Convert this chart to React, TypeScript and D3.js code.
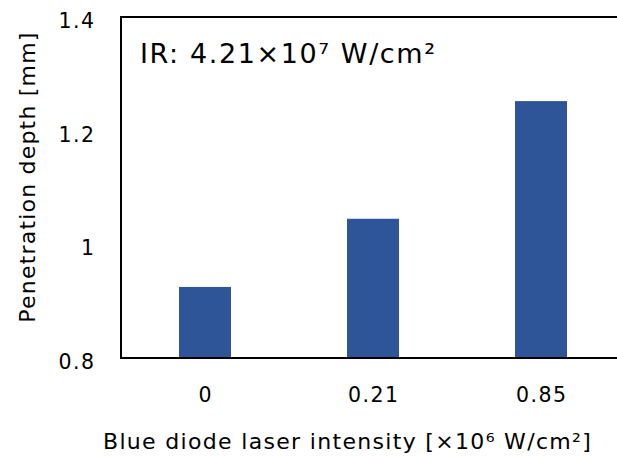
import React from "react";
import * as d3 from "d3";

const categories = ["0", "0.21", "0.85"];
const depthValues = [0.925, 1.045, 1.252];
const yTicks = [0.8, 1.0, 1.2, 1.4];
const yTickLabels = ["0.8", "1", "1.2", "1.4"];
const annotation = "IR: 4.21×10⁷ W/cm²";
const xTitle = "Blue diode laser intensity [×10⁶ W/cm²]";
const yTitle = "Penetration depth [mm]";

const W = 617;
const H = 457;
const left = 121;
const right = 625;
const top = 17;
const bottom = 358;
const font = "'DejaVu Sans', Verdana, sans-serif";

export default function App() {
  const x = d3.scaleBand<string>().domain(categories).range([left, right]).paddingInner(0.69).paddingOuter(0.345);
  const y = d3.scaleLinear().domain([0.8, 1.4]).range([bottom, top]);
  const bw = 52;
  const tickLs = 1.5;
  return (
    <svg width={W} height={H} style={{ position: "absolute", left: 0, top: 0, background: "#fff" }}>
      {categories.map((c, i) => {
        const cx = (x(c) as number) + x.bandwidth() / 2;
        return (
          <rect key={c} x={cx - bw / 2} y={y(depthValues[i])} width={bw} height={bottom - y(depthValues[i])} fill="#2e5597" />
        );
      })}
      <line x1={left} x2={left} y1={top} y2={bottom} stroke="#000" strokeWidth={2} />
      <line x1={left - 1} x2={W} y1={top} y2={top} stroke="#000" strokeWidth={2} />
      <line x1={left - 1} x2={W} y1={bottom} y2={bottom} stroke="#000" strokeWidth={2} />
      {yTicks.map((t, i) => (
        <text key={t} x={94 + tickLs} y={y(t) + 11} textAnchor="end" fontFamily={font} fontSize={20.5} letterSpacing={tickLs} fill="#000">
          {yTickLabels[i]}
        </text>
      ))}
      {categories.map((c) => (
        <text key={c} x={(x(c) as number) + x.bandwidth() / 2 + tickLs / 2} y={402} textAnchor="middle" fontFamily={font} fontSize={20.5} letterSpacing={tickLs} fill="#000">
          {c}
        </text>
      ))}
      <text x={140} y={63} fontFamily={font} fontSize={27} letterSpacing={1.6} fill="#000">{annotation}</text>
      <text x={103} y={449} fontFamily={font} fontSize={22} letterSpacing={1.32} fill="#000">{xTitle}</text>
      <text transform={`translate(35,177) rotate(-90)`} textAnchor="middle" fontFamily={font} fontSize={22} letterSpacing={1.2} fill="#000">{yTitle}</text>
    </svg>
  );
}
